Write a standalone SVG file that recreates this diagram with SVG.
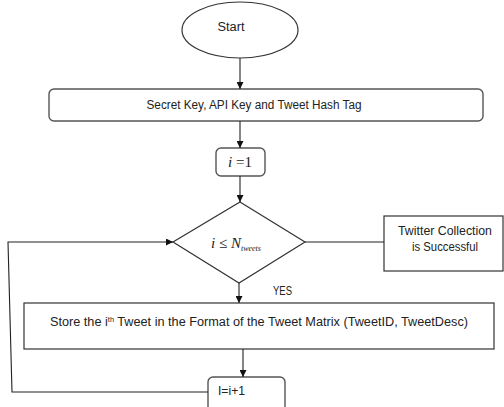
<svg xmlns="http://www.w3.org/2000/svg" width="504" height="407" viewBox="0 0 504 407">
  <defs>
    <marker id="arrow" viewBox="0 0 8 8" refX="8" refY="4" markerWidth="7" markerHeight="7" markerUnits="userSpaceOnUse" orient="auto">
      <path d="M0,0 L8,4 L0,8 Z" fill="#111"/>
    </marker>
    <style>
      .shape { fill: #fff; stroke: #333; stroke-width: 1.2; }
      .rounded { fill: #fff; stroke: #555; stroke-width: 1.4; }
      .lbl { font-family: "Liberation Sans", Arial, sans-serif; font-size: 12px; fill: #222; }
      .math { font-family: "Liberation Serif", "Times New Roman", serif; font-size: 15px; fill: #222; }
      .edge { fill: none; stroke: #222; stroke-width: 1.1; }
    </style>
  </defs>
  <rect width="504" height="407" fill="#fff"/>

  <g id="start">
    <ellipse class="shape" cx="240" cy="30" rx="58" ry="28"/>
    <text class="lbl" x="231" y="31" text-anchor="middle" textLength="27" lengthAdjust="spacingAndGlyphs">Start</text>
  </g>

  <g id="keys">
    <rect class="rounded" x="49" y="89" width="434" height="32" rx="5"/>
    <text class="lbl" x="254" y="109" text-anchor="middle" textLength="215" lengthAdjust="spacingAndGlyphs">Secret Key, API Key and Tweet Hash Tag</text>
  </g>

  <g id="init">
    <rect class="rounded" x="216" y="148" width="49" height="28" rx="5"/>
    <text class="math" x="240" y="167" text-anchor="middle"><tspan font-style="italic">i</tspan> =1</text>
  </g>

  <g id="condition">
    <polygon class="shape" points="240,202 305,242 239,283 173,242"/>
    <text class="math" x="211" y="248"><tspan font-style="italic">i</tspan> ≤ <tspan font-style="italic">N</tspan><tspan font-style="italic" font-size="8" dy="3">tweets</tspan></text>
  </g>

  <g id="done">
    <rect class="shape" x="384" y="216" width="119" height="55"/>
    <text class="lbl" x="445" y="235" text-anchor="middle" textLength="94" lengthAdjust="spacingAndGlyphs">Twitter Collection</text>
    <text class="lbl" x="445" y="251" text-anchor="middle" textLength="66" lengthAdjust="spacingAndGlyphs">is Successful</text>
  </g>

  <g id="store">
    <rect class="shape" x="24" y="303" width="470" height="46"/>
    <text class="lbl" x="50" y="326" textLength="418" lengthAdjust="spacingAndGlyphs">Store the i<tspan font-size="7" dy="-4">th</tspan><tspan dy="4"> Tweet in the Format of the Tweet Matrix (TweetID, TweetDesc)</tspan></text>
  </g>

  <g id="increment">
    <rect class="rounded" x="208" y="377" width="77" height="40" rx="5"/>
    <text class="lbl" x="218" y="395" textLength="27" lengthAdjust="spacingAndGlyphs">I=i+1</text>
  </g>

  <g id="yes-label">
    <text class="lbl" x="273" y="295" textLength="19" lengthAdjust="spacingAndGlyphs">YES</text>
  </g>

  <g id="connectors">
    <line class="edge" x1="240" y1="58" x2="240" y2="89" marker-end="url(#arrow)"/>
    <line class="edge" x1="240" y1="121" x2="240" y2="148" marker-end="url(#arrow)"/>
    <line class="edge" x1="240" y1="176" x2="240" y2="202" marker-end="url(#arrow)"/>
    <line class="edge" x1="239" y1="283" x2="239" y2="303" marker-end="url(#arrow)"/>
    <line class="edge" x1="305" y1="242" x2="384" y2="242"/>
    <line class="edge" x1="243" y1="349" x2="243" y2="377" marker-end="url(#arrow)"/>
    <polyline class="edge" points="208,392 12,392 8,242 173,242" marker-end="url(#arrow)"/>
  </g>
</svg>
